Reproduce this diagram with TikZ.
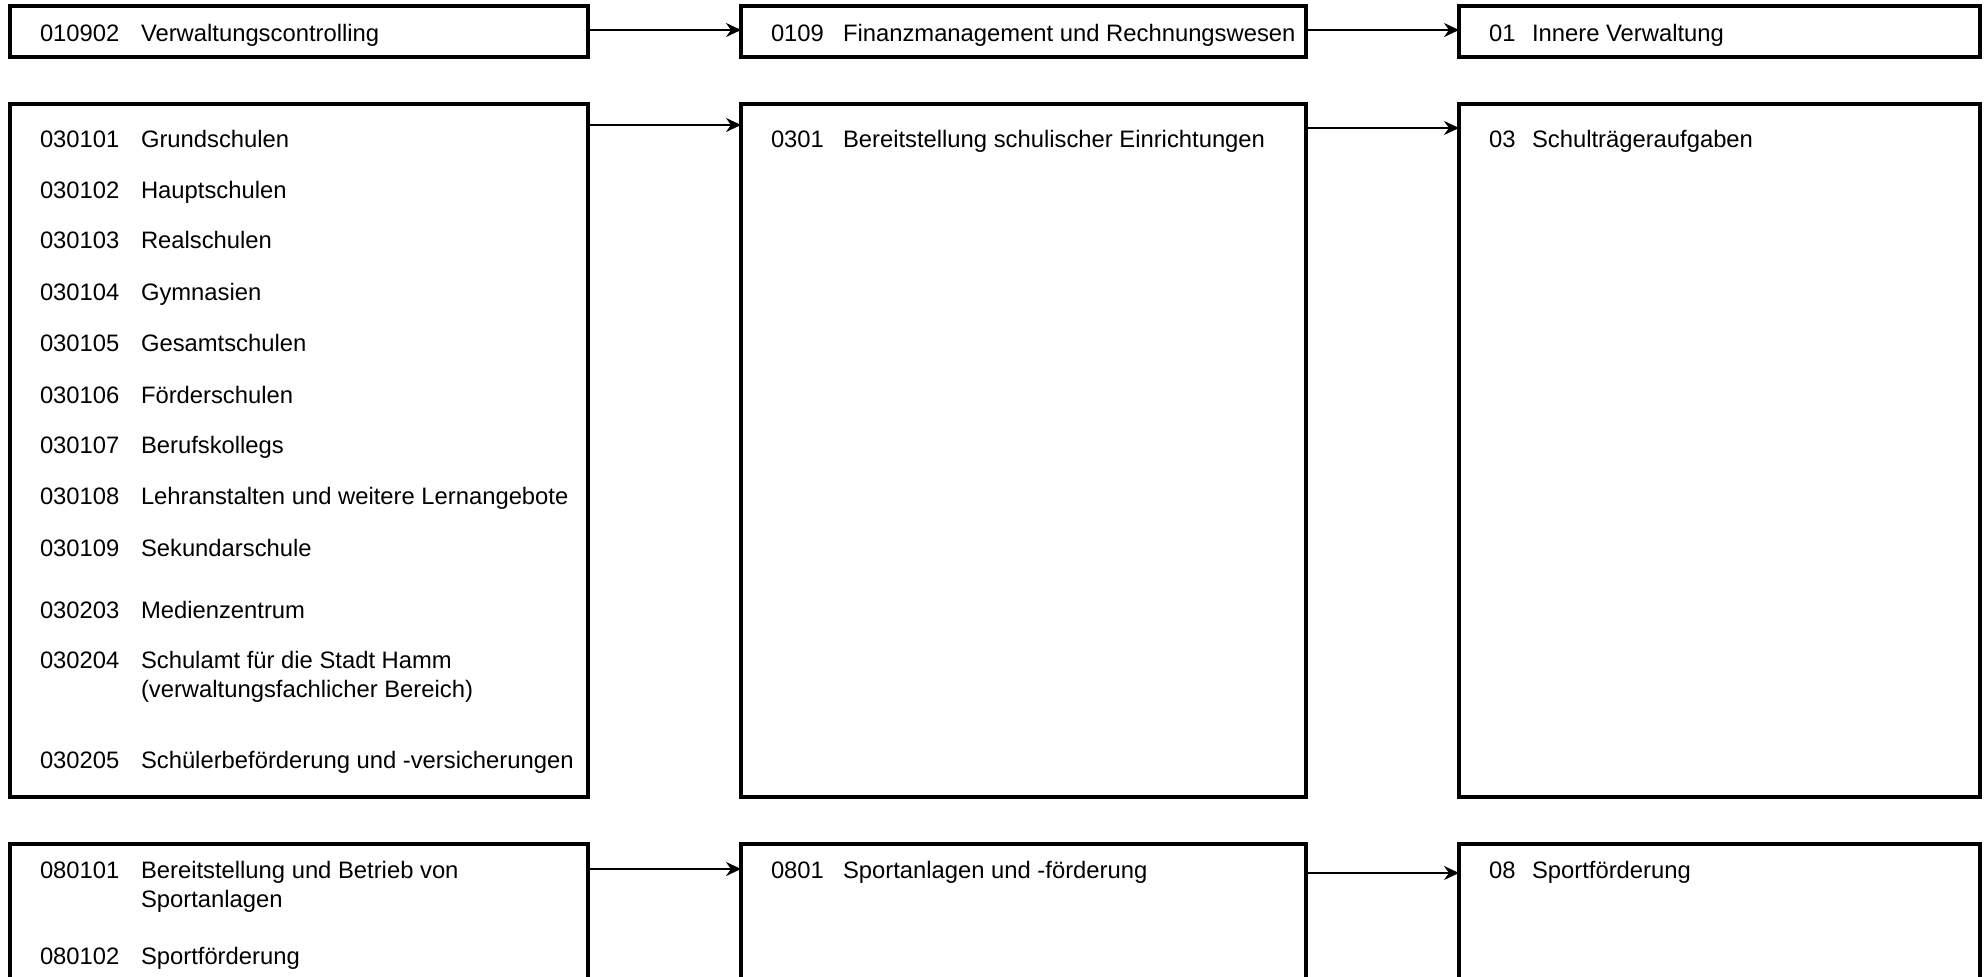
\documentclass[tikz,border=0pt]{standalone}
\usepackage{fontspec}
\setmainfont{Liberation Sans}
\usetikzlibrary{arrows.meta}
\begin{document}
\begin{tikzpicture}[x=0.5pt,y=-0.5pt,
  box/.style={draw, line width=1.6pt, rectangle, inner sep=0pt, outer sep=0pt, anchor=north west},
  txt/.style={anchor=base west, inner sep=0pt, outer sep=0pt, font=\fontsize{11.9pt}{14pt}\selectfont},
  arr/.style={line width=1pt, -{Stealth[length=7.5pt,width=7pt,inset=2.5pt]}}]
\clip (0,0) rectangle (1984,977);
\fill[white] (0,0) rectangle (1984,977);

% boxes
\node[box, minimum width=289pt, minimum height=25.5pt] (a1) at (10,6) {};
\node[box, minimum width=282.5pt, minimum height=25.5pt] (b1) at (741,6) {};
\node[box, minimum width=260.5pt, minimum height=25.5pt] (c1) at (1459,6) {};
\node[box, minimum width=289pt, minimum height=346.5pt] (a2) at (10,104) {};
\node[box, minimum width=282.5pt, minimum height=346.5pt] (b2) at (741,104) {};
\node[box, minimum width=260.5pt, minimum height=346.5pt] (c2) at (1459,104) {};
\node[box, minimum width=289pt, minimum height=83pt] (a3) at (10,844) {};
\node[box, minimum width=282.5pt, minimum height=83pt] (b3) at (741,844) {};
\node[box, minimum width=260.5pt, minimum height=83pt] (c3) at (1459,844) {};

% arrow levels
\coordinate (r1) at (0,30);
\coordinate (r2a) at (0,125);
\coordinate (r2b) at (0,128);
\coordinate (r3a) at (0,869);
\coordinate (r3b) at (0,873);
\draw[arr] (a1.east |- r1) -- (b1.west |- r1);
\draw[arr] (b1.east |- r1) -- (c1.west |- r1);
\draw[arr] (a2.east |- r2a) -- (b2.west |- r2a);
\draw[arr] (b2.east |- r2b) -- (c2.west |- r2b);
\draw[arr] (a3.east |- r3a) -- (b3.west |- r3a);
\draw[arr] (b3.east |- r3b) -- (c3.west |- r3b);

% row 1 texts
\node[txt] (k11) at (40,42) {010902};
\node[txt] (l11) at (141,42) {Verwaltungscontrolling};
\node[txt] (k21) at (771,42) {0109};
\node[txt] (l21) at (843,42) {Finanzmanagement und Rechnungswesen};
\node[txt] (k31) at (1489,42) {01};
\node[txt] (l31) at (1532,42) {Innere Verwaltung};

% row 2 texts, column 1
\node[txt] (k1a) at (40,148) {030101};
\node[txt] (l1a) at (141,148) {Grundschulen};
\node[txt] (k1b) at (40,199) {030102};
\node[txt] (l1b) at (141,199) {Hauptschulen};
\node[txt] (k1c) at (40,249) {030103};
\node[txt] (l1c) at (141,249) {Realschulen};
\node[txt] (k1d) at (40,301) {030104};
\node[txt] (l1d) at (141,301) {Gymnasien};
\node[txt] (k1e) at (40,352) {030105};
\node[txt] (l1e) at (141,352) {Gesamtschulen};
\node[txt] (k1f) at (40,404) {030106};
\node[txt] (l1f) at (141,404) {Förderschulen};
\node[txt] (k1g) at (40,454) {030107};
\node[txt] (l1g) at (141,454) {Berufskollegs};
\node[txt] (k1h) at (40,505) {030108};
\node[txt] (l1h) at (141,505) {Lehranstalten und weitere Lernangebote};
\node[txt] (k1i) at (40,557) {030109};
\node[txt] (l1i) at (141,557) {Sekundarschule};
\node[txt] (k1j) at (40,618) {030203};
\node[txt] (l1j) at (141,618) {Medienzentrum};
\node[txt] (k1k) at (40,668) {030204};
\node[txt] (l1k) at (141,668) {Schulamt für die Stadt Hamm};
\node[txt] (l1k2) at (141,697) {(verwaltungsfachlicher Bereich)};
\node[txt] (k1l) at (40,768) {030205};
\node[txt] (l1l) at (141,768) {Schülerbeförderung und -versicherungen};

% row 2 texts, columns 2 and 3
\node[txt] (k22) at (771,148) {0301};
\node[txt] (l22) at (843,148) {Bereitstellung schulischer Einrichtungen};
\node[txt] (k32) at (1489,148) {03};
\node[txt] (l32) at (1532,148) {Schulträgeraufgaben};

% row 3 texts
\node[txt] (k13a) at (40,878) {080101};
\node[txt] (l13a) at (141,878) {Bereitstellung und Betrieb von};
\node[txt] (l13a2) at (141,907) {Sportanlagen};
\node[txt] (k13b) at (40,964) {080102};
\node[txt] (l13b) at (141,964) {Sportförderung};
\node[txt] (k23) at (771,878) {0801};
\node[txt] (l23) at (843,878) {Sportanlagen und -förderung};
\node[txt] (k33) at (1489,878) {08};
\node[txt] (l33) at (1532,878) {Sportförderung};
\end{tikzpicture}
\end{document}
